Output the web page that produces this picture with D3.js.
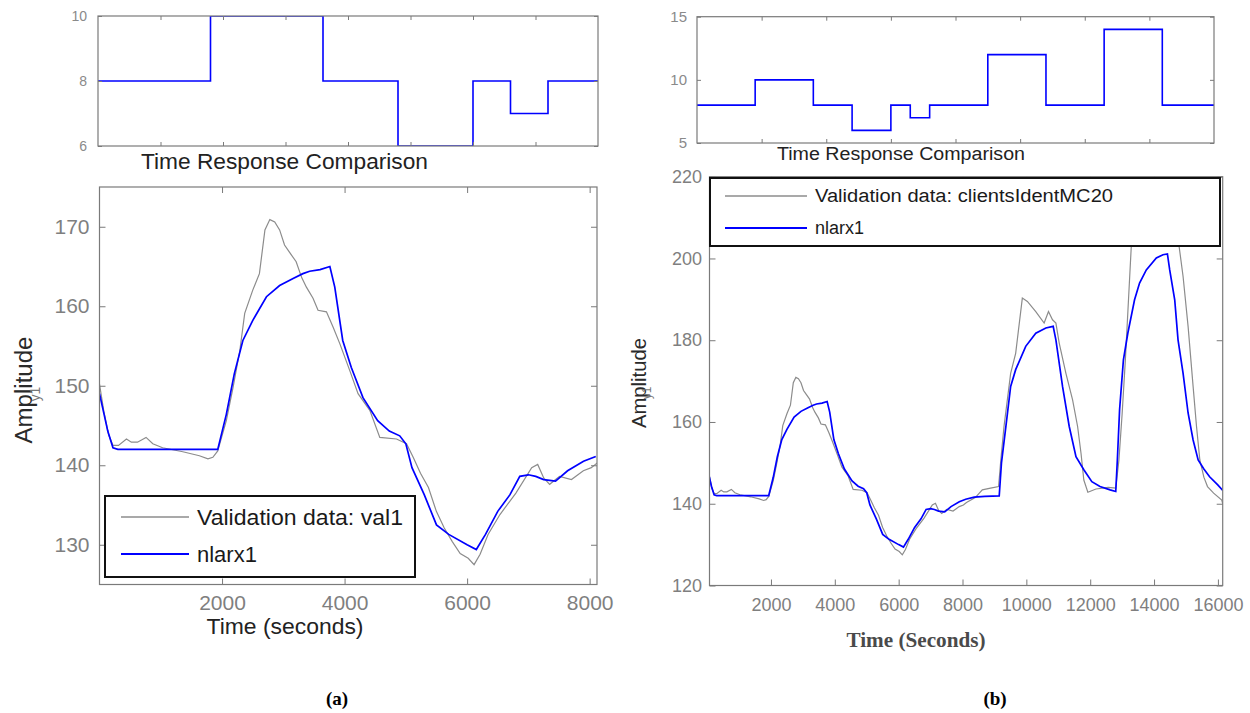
<!DOCTYPE html>
<html><head><meta charset="utf-8">
<script src="https://cdn.jsdelivr.net/npm/d3@7"></script>
<style>
body{margin:0;background:#fff}
svg{display:block}
text{font-family:"Liberation Sans",Arial,sans-serif}
</style>
</head><body>
<svg id="c" width="1250" height="713"></svg>
<script>
// ---- data ----
const stepTimes  = [0, 1800, 3600, 4800, 6000, 6600, 7200, 9000, 10800, 12600, 14400];
const stepLevels = [8, 10, 8, 6, 8, 7, 8, 12, 8, 14, 8];

const valTimes = [0,70,150,220,310,440,520,620,760,870,1030,1360,1630,1770,1850,1930,2070,2180,2290,2370,2500,2610,2700,2780,2860,2940,3020,3100,3210,3300,3377,3485,3567,3704,3812,3922,4085,4220,4412,4575,4848,5011,5120,5239,5369,5498,5627,5758,5887,6018,6114,6212,6342,6536,6796,7054,7152,7250,7347,7508,7703,7897,8028,8124,8400,8620,8877,9130,9200,9300,9508,9665,9874,10032,10295,10557,10693,10819,10925,11029,11239,11448,11605,11711,11800,11926,12180,12562,12800,12900,13000,13100,13200,13300,13400,14600,14750,14909,15066,15223,15330,15434,15560,15674,15866,16120,16160];
const valValues = [150.2,146.8,143.8,142.5,142.5,143.3,142.9,142.9,143.5,142.7,142.2,141.7,141.2,140.8,141.0,141.8,145.6,149.8,154.4,159.1,162.0,164.1,169.6,170.9,170.6,169.6,167.7,166.8,165.6,163.6,162.4,161.0,159.5,159.3,157.4,155.3,151.9,149.0,146.9,143.5,143.3,142.7,141.0,139.0,137.2,134.2,132.1,130.4,128.9,128.3,127.5,128.8,131.3,133.8,136.5,139.7,140.1,138.4,137.6,138.6,138.2,139.3,139.7,140.3,141.5,143.4,143.8,144.2,150.7,158.9,171.9,176.8,190.3,189.5,187.0,184.2,187.0,185.0,184.2,179.3,171.9,165.4,158.9,152.4,145.8,142.8,143.6,144.0,143.8,150.7,162,175,190,205,214,214,205,195.6,183.4,168.7,158.9,150.7,146.5,144.2,142.6,140.9,139.7];

const modelTimes = [0,75,135,220,300,1930,2070,2200,2340,2500,2725,2940,3160,3320,3430,3600,3760,3840,3970,4110,4300,4540,4730,4900,5000,5100,5300,5500,5700,6000,6150,6300,6500,6700,6860,7000,7120,7250,7443,7640,7900,8100,8367,8700,9150,9220,9360,9508,9665,9980,10295,10610,10840,10925,11133,11343,11554,11800,12051,12306,12624,12800,12850,12920,13040,13178,13389,13546,13757,14071,14279,14418,14490,14647,14751,14909,15066,15223,15381,15560,15740,15995,16160];
const modelValues = [149,146.4,144.3,142.2,142.0,142.0,146.4,151.5,155.7,158.2,161.2,162.6,163.5,164.1,164.4,164.6,165.0,162.4,155.7,152.3,148.5,145.6,144.3,143.7,142.7,139.7,136.3,132.5,131.3,130.0,129.4,131.3,134.2,136.3,138.6,138.8,138.6,138.2,138.0,139.3,140.5,141.1,141.6,141.8,141.9,150.0,159.0,168.7,172.8,178.5,181.7,183.0,183.4,180.1,168.7,158.9,151.5,148.3,145.4,144.2,143.4,143.0,150.7,163.0,175.2,181.7,189.9,194.0,197.2,200.1,200.9,201.1,197.2,189.9,180.1,171.9,162.2,155.6,150.7,148.5,146.6,144.6,143.2];

const topLeftYTicks  = [6, 8, 10];
const topRightYTicks = [5, 10, 15];
const leftYTicks  = [130, 140, 150, 160, 170];
const leftXTicks  = [2000, 4000, 6000, 8000];
const rightYTicks = [120, 140, 160, 180, 200, 220];
const rightXTicks = [2000, 4000, 6000, 8000, 10000, 12000, 14000, 16000];

const seriesNames = ["Validation data: val1", "nlarx1"];
const seriesNamesB = ["Validation data: clientsIdentMC20", "nlarx1"];

// ---- helpers ----
const svg = d3.select("#c");
const AX = "#7a7a7a";
const GRAYLINE = "#8c8c8c";
const BLUE = "#0000ff";
let clipId = 0;

const valData = valTimes.map((t, i) => ({t, v: valValues[i]}));
const modelData = modelTimes.map((t, i) => ({t, v: modelValues[i]}));

function frame(g, x, y, o) {
  const [x0, x1] = x.range(), [y0, y1] = y.range();
  const tl = o.tickLen;
  const b = g.append("g").attr("transform", `translate(0,${y0})`)
    .call(d3.axisBottom(x).tickValues(o.xTicks).tickSizeInner(-tl).tickSizeOuter(0)
      .tickPadding(o.xPad).tickFormat(o.xLabels ? d3.format("d") : () => ""));
  const t = g.append("g").attr("transform", `translate(0,${y1})`)
    .call(d3.axisTop(x).tickValues(o.xTicks).tickSizeInner(-tl).tickSizeOuter(0).tickFormat(() => ""));
  const l = g.append("g").attr("transform", `translate(${x0},0)`)
    .call(d3.axisLeft(y).tickValues(o.yTicks).tickSizeInner(-tl).tickSizeOuter(0)
      .tickPadding(o.yPad).tickFormat(d3.format("d")));
  const r = g.append("g").attr("transform", `translate(${x1},0)`)
    .call(d3.axisRight(y).tickValues(o.yTicks).tickSizeInner(-tl).tickSizeOuter(0).tickFormat(() => ""));
  [b, t, l, r].forEach(a => {
    a.select(".domain").remove();
    a.selectAll("line").attr("stroke", AX);
    a.selectAll("text").attr("fill", o.labelColor).style("font-size", o.fontSize + "px");
  });
  g.append("rect").attr("x", x0).attr("y", y1).attr("width", x1 - x0).attr("height", y0 - y1)
    .attr("fill", "none").attr("stroke", AX).attr("stroke-width", 1.2);
}

function clip(g, x, y) {
  const id = "clip" + (clipId++);
  const [x0, x1] = x.range(), [y0, y1] = y.range();
  svg.append("defs").append("clipPath").attr("id", id).append("rect")
    .attr("x", x0).attr("y", y1).attr("width", x1 - x0).attr("height", y0 - y1);
  return g.append("g").attr("clip-path", `url(#${id})`);
}

function topPanel(o) {
  const x = d3.scaleLinear().domain(o.xDomain).range(o.xRange);
  const y = d3.scaleLinear().domain(o.yDomain).range(o.yRange);
  const g = svg.append("g");
  const pts = stepTimes.map((t, i) => ({t, v: stepLevels[i]}));
  pts.push({t: o.xDomain[1], v: stepLevels[stepLevels.length - 1]});
  const line = d3.line().x(d => x(d.t)).y(d => y(d.v)).curve(d3.curveStepAfter);
  clip(g, x, y).append("path").datum(pts).attr("d", line)
    .attr("fill", "none").attr("stroke", BLUE).attr("stroke-width", 1.6);
  frame(g, x, y, {xTicks: o.xTicks, yTicks: o.yTicks, tickLen: 4, xPad: 4, yPad: o.yPad,
    xLabels: false, labelColor: "#8a8a8a", fontSize: o.fontSize});
  g.append("text").attr("x", o.title.x).attr("y", o.title.y).text("Time Response Comparison")
    .attr("fill", "#222").style("font-size", o.title.size + "px")
    .attr("textLength", o.title.len).attr("lengthAdjust", "spacingAndGlyphs");
}

function mainPanel(o) {
  const x = d3.scaleLinear().domain(o.xDomain).range(o.xRange);
  const y = d3.scaleLinear().domain(o.yDomain).range(o.yRange);
  const g = svg.append("g");
  const line = d3.line().x(d => x(d.t)).y(d => y(d.v));
  const cg = clip(g, x, y);
  cg.append("path").datum(valData.filter(d => d.t <= o.xDomain[1] + 50)).attr("d", line)
    .attr("fill", "none").attr("stroke", GRAYLINE).attr("stroke-width", 1.2);
  cg.append("path").datum(modelData.filter(d => d.t <= o.xDomain[1] + 50)).attr("d", line)
    .attr("fill", "none").attr("stroke", BLUE).attr("stroke-width", 1.7);
  frame(g, x, y, {xTicks: o.xTicks, yTicks: o.yTicks, tickLen: 6, xPad: o.xPad, yPad: o.yPad,
    xLabels: true, labelColor: "#7f7f7f", fontSize: o.fontSize});
  const L = o.legend;
  const lg = g.append("g");
  lg.append("rect").attr("x", L.x).attr("y", L.y).attr("width", L.w).attr("height", L.h)
    .attr("fill", "#fff").attr("stroke", "#111").attr("stroke-width", 2);
  [[GRAYLINE, 1.3], [BLUE, 1.9]].forEach((s, i) => {
    lg.append("line").attr("x1", L.lx0).attr("x2", L.lx1).attr("y1", L.rows[i]).attr("y2", L.rows[i])
      .attr("stroke", s[0]).attr("stroke-width", s[1]);
    const tx = lg.append("text").attr("x", L.tx).attr("y", L.rows[i]).attr("dy", "0.35em")
      .text(o.names[i]).attr("fill", "#1a1a1a").style("font-size", L.size + "px");
    if (L.lens[i]) tx.attr("textLength", L.lens[i]).attr("lengthAdjust", "spacingAndGlyphs");
  });
  const A = o.ylab;
  g.append("text").attr("transform", `translate(${A.x},${A.y}) rotate(-90)`)
    .attr("text-anchor", "middle").text("Amplitude").attr("fill", "#2a2a2a")
    .style("font-size", A.size + "px").attr("textLength", A.len).attr("lengthAdjust", "spacingAndGlyphs");
  g.append("text").attr("transform", `translate(${A.x + A.yx},${A.y + A.yy}) rotate(-90)`)
    .attr("text-anchor", "middle").text("y1").attr("fill", "#777")
    .style("font-size", (A.size * 0.6) + "px");
  return {x, y, g};
}

// ---- panel (a) ----
topPanel({xDomain: [0, 8000], xRange: [98, 598], yDomain: [6, 10], yRange: [146, 16],
  xTicks: d3.range(1000, 8000, 1000), yTicks: topLeftYTicks, yPad: 11, fontSize: 14,
  title: {x: 141, y: 169, size: 22, len: 287}});

const A = mainPanel({xDomain: [0, 8120], xRange: [99.5, 597], yDomain: [125, 175], yRange: [584.5, 187],
  xTicks: leftXTicks, yTicks: leftYTicks, xPad: 11, yPad: 10, fontSize: 21,
  legend: {x: 105, y: 496, w: 310, h: 81, lx0: 121, lx1: 189, tx: 197, rows: [517, 554], size: 22, lens: [206, 0]},
  names: seriesNames,
  ylab: {x: 32, y: 390, size: 23, len: 107, yx: 8, yy: 4}});
A.g.append("text").attr("x", 285).attr("y", 634).attr("text-anchor", "middle")
  .text("Time (seconds)").attr("fill", "#222").style("font-size", "22px")
  .attr("textLength", 157).attr("lengthAdjust", "spacingAndGlyphs");

// ---- panel (b) ----
topPanel({xDomain: [0, 16000], xRange: [697, 1214], yDomain: [5, 15], yRange: [143, 16.7],
  xTicks: d3.range(2000, 16000, 2000), yTicks: topRightYTicks, yPad: 10, fontSize: 15,
  title: {x: 777, y: 160, size: 18, len: 248}});

const B = mainPanel({xDomain: [75, 16150], xRange: [709.5, 1222.7], yDomain: [120, 220], yRange: [585.5, 176.7],
  xTicks: rightXTicks, yTicks: rightYTicks, xPad: 13, yPad: 7.5, fontSize: 18,
  legend: {x: 710, y: 178, w: 510, h: 68, lx0: 725, lx1: 807, tx: 815, rows: [196, 228], size: 18, lens: [298, 0]},
  names: seriesNamesB,
  ylab: {x: 646, y: 383, size: 20, len: 90, yx: 5, yy: 10}});
B.g.append("text").attr("x", 916).attr("y", 647).attr("text-anchor", "middle")
  .text("Time (Seconds)").attr("fill", "#4a4a4a").style("font-size", "20px").style("font-weight", "bold")
  .style("font-family", '"Liberation Serif","Times New Roman",serif')
  .attr("textLength", 139).attr("lengthAdjust", "spacingAndGlyphs");

// ---- captions ----
[["(a)", 337], ["(b)", 995]].forEach(([s, cx]) => {
  svg.append("text").attr("x", cx).attr("y", 705).attr("text-anchor", "middle").text(s)
    .attr("fill", "#000").style("font-size", "19px").style("font-weight", "bold")
    .style("font-family", '"Liberation Serif","Times New Roman",serif');
});
</script>
</body></html>
